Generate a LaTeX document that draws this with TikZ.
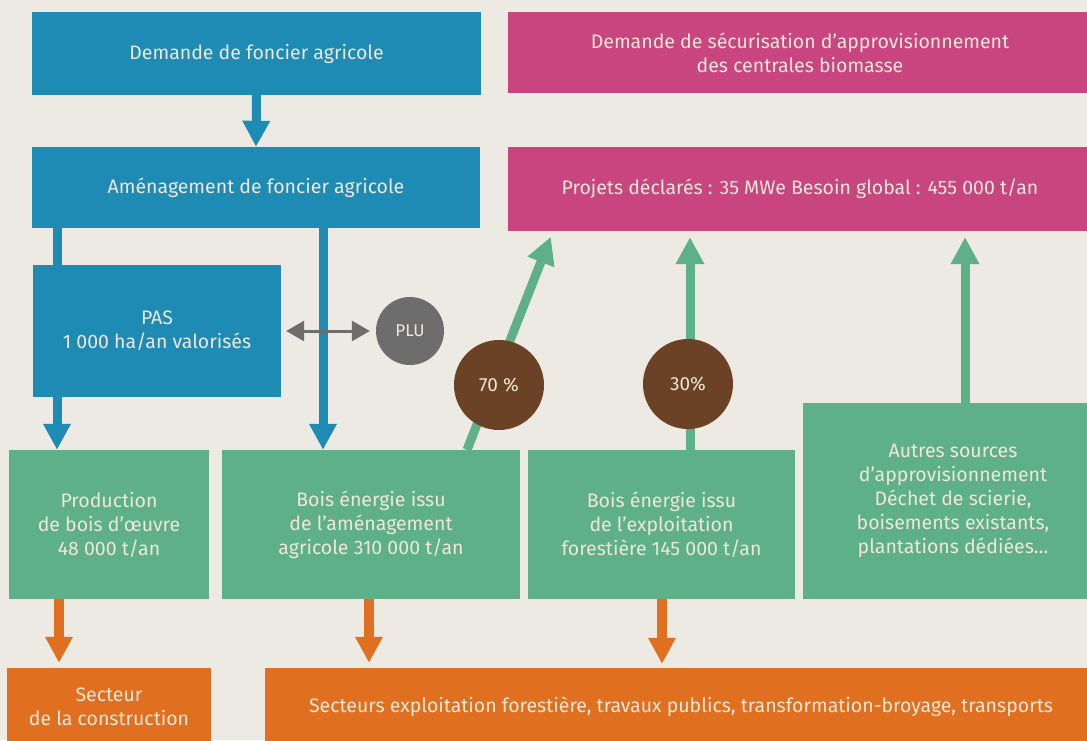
\documentclass[tikz,border=0pt]{standalone}
\usepackage{fontspec}
\setmainfont{Fira Sans}
\usetikzlibrary{arrows.meta}
\definecolor{bg}{HTML}{EDEAE4}
\definecolor{blueC}{HTML}{1E8BB5}
\definecolor{magC}{HTML}{C9457F}
\definecolor{greenC}{HTML}{5EB089}
\definecolor{orangeC}{HTML}{E0701F}
\definecolor{brownC}{HTML}{6B4226}
\definecolor{grayC}{HTML}{6D6D6D}
\definecolor{txt}{HTML}{EFE7D8}
\tikzset{
  box/.style={inner sep=0pt, align=center, text=txt, font=\fontsize{19.5}{24}\selectfont},
  bluebox/.style={box, fill=blueC},
  magbox/.style={box, fill=magC},
  greenbox/.style={box, fill=greenC},
  orangebox/.style={box, fill=orangeC},
  disc/.style={circle, inner sep=0pt, text=txt, font=\fontsize{19}{20}\selectfont},
  bluearr/.style={draw=blueC, line width=9pt, -{Triangle[width=26pt,length=26pt]}},
  blueline/.style={draw=blueC, line width=9pt},
  greenarr/.style={draw=greenC, line width=9pt, -{Triangle[width=27pt,length=27pt]}},
  orangearr/.style={draw=orangeC, line width=10pt, -{Triangle[width=26pt,length=26pt]}},
  grayarr/.style={draw=grayC, line width=3pt, {Triangle[width=20pt,length=18pt]}-{Triangle[width=20pt,length=18pt]}}
}
\begin{document}
\begin{tikzpicture}[x=1pt,y=-1pt]
\useasboundingbox (0,0) rectangle (1087,740);
\fill[bg] (0,0) rectangle (1087,740);

% boxes
\node[bluebox, minimum width=449pt, minimum height=83pt] (dfa) at (256.5,53.5) {Demande de foncier agricole};
\node[bluebox, minimum width=448pt, minimum height=81pt] (afa) at (256,187.5) {Aménagement de foncier agricole};
\node[magbox, minimum width=584pt, minimum height=81pt] (dsa) at (800,52.5) {Demande de sécurisation d’approvisionnement\\des centrales biomasse};
\node[magbox, minimum width=584pt, minimum height=84pt] (pdc) at (800,189) {Projets déclarés : 35 MWe Besoin global : 455 000 t/an};
\node[bluebox, minimum width=248pt, minimum height=132pt] (pas) at (157,331) {PAS\\1 000 ha/an valorisés};
\node[greenbox, minimum width=200pt, minimum height=149pt] (prod) at (109,524.5) {Production\\de bois d’œuvre\\48 000 t/an};
\node[greenbox, minimum width=298pt, minimum height=149pt] (bea) at (371,524.5) {Bois énergie issu\\de l’aménagement\\agricole 310 000 t/an};
\node[greenbox, minimum width=267pt, minimum height=149pt] (bef) at (661.5,524.5) {Bois énergie issu\\de l’exploitation\\forestière 145 000 t/an};
\node[greenbox, minimum width=300pt, minimum height=196pt] (aut) at (953,501) {Autres sources\\d’approvisionnement\\Déchet de scierie,\\boisements existants,\\plantations dédiées…};
\node[orangebox, minimum width=204pt, minimum height=78pt] (sec) at (109,707) {Secteur\\de la construction};
\node[orangebox, minimum width=832pt, minimum height=78pt] (secs) at (681,707) {Secteurs exploitation forestière, travaux publics, transformation-broyage, transports};

% helper coordinates
\coordinate (x57) at (57,0);
\coordinate (x323) at (323,0);
\coordinate (x467) at (467,0);
\coordinate (x553) at (553,0);
\coordinate (x690) at (690,0);
\coordinate (x965) at (965,0);
\coordinate (x59) at (59,0);
\coordinate (x369) at (369,0);
\coordinate (x662) at (662,0);

% blue connectors
\draw[bluearr] (dfa.south) -- (afa.north);
\draw[blueline] (x57 |- afa.south) -- (x57 |- pas.north);
\draw[bluearr] (x57 |- pas.south) -- (x57 |- prod.north);
\draw[bluearr] (x323 |- afa.south) -- (x323 |- bea.north);

% PLU
\node[disc, fill=grayC, minimum size=68pt, font=\fontsize{17}{18}\selectfont] (plu) at (410,331) {PLU};
\draw[grayarr, shorten <=5pt, shorten >=6pt] (pas.east) -- (plu.west);

% green connectors
\draw[greenarr, shorten >=6pt] (x467 |- bea.north) -- (x553 |- pdc.south);
\draw[greenarr, shorten >=6pt] (x690 |- bef.north) -- (x690 |- pdc.south);
\draw[greenarr, shorten >=6pt] (x965 |- aut.north) -- (x965 |- pdc.south);

% percentage discs
\node[disc, fill=brownC, minimum size=90pt] (c70) at (499,385) {70 \%};
\node[disc, fill=brownC, minimum size=90pt] (c30) at (688,384) {30\%};

% orange connectors
\draw[orangearr, shorten >=5pt] (x59 |- prod.south) -- (x59 |- sec.north);
\draw[orangearr, shorten >=5pt] (x369 |- bea.south) -- (x369 |- secs.north);
\draw[orangearr, shorten >=4pt] (x662 |- bef.south) -- (x662 |- secs.north);
\end{tikzpicture}
\end{document}
